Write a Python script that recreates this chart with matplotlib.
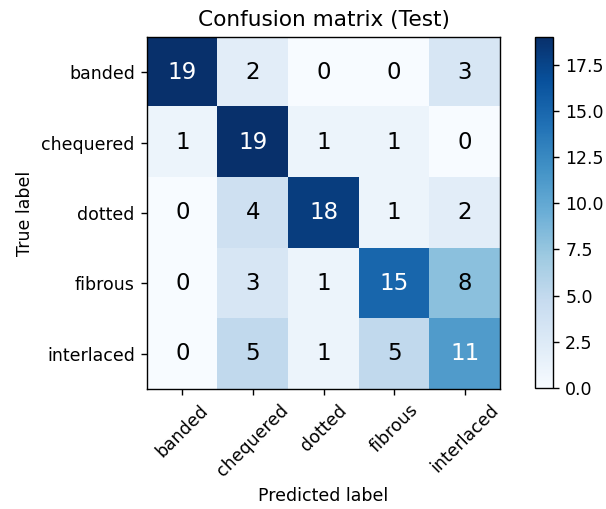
import numpy as np
import matplotlib
matplotlib.use('Agg')
import matplotlib.pyplot as plt

classes = ['banded', 'chequered', 'dotted', 'fibrous', 'interlaced']
cm = np.array([
    [19, 2, 0, 0, 3],
    [1, 19, 1, 1, 0],
    [0, 4, 18, 1, 2],
    [0, 3, 1, 15, 8],
    [0, 5, 1, 5, 11],
])

fig = plt.figure(figsize=(6.06, 5.09), dpi=100)
ax = fig.add_axes([0.2426, 0.2358, 0.5825, 0.6916])
cax = fig.add_axes([0.8828, 0.2377, 0.0297, 0.6896])

im = ax.imshow(cm, interpolation='nearest', cmap=plt.cm.Blues, aspect='auto')
ax.set_title('Confusion matrix (Test)', fontsize=15.6, pad=8)
cb = fig.colorbar(im, cax=cax)
cb.ax.tick_params(labelsize=12.5, length=4.4, pad=4.4, width=1)
cb.outline.set_linewidth(1)

ticks = np.arange(len(classes))
ax.set_xticks(ticks)
ax.set_xticklabels(classes, rotation=45, fontsize=12.5)
ax.set_yticks(ticks)
ax.set_yticklabels(classes, fontsize=12.5)
ax.tick_params(length=4.4, pad=4.4, width=1)
for s in ax.spines.values():
    s.set_linewidth(1)

# 文字颜色：大于一半最大值用白色
thresh = cm.max() / 2.
for i in range(cm.shape[0]):
    for j in range(cm.shape[1]):
        ax.text(j, i, format(cm[i, j], 'd'),
                ha='center', va='center', fontsize=16.5,
                color='white' if cm[i, j] > thresh else 'black')

ax.set_ylabel('True label', fontsize=12.5, labelpad=5)
ax.set_xlabel('Predicted label', fontsize=12.5, labelpad=5)

fig.savefig('out.png', dpi=100)
